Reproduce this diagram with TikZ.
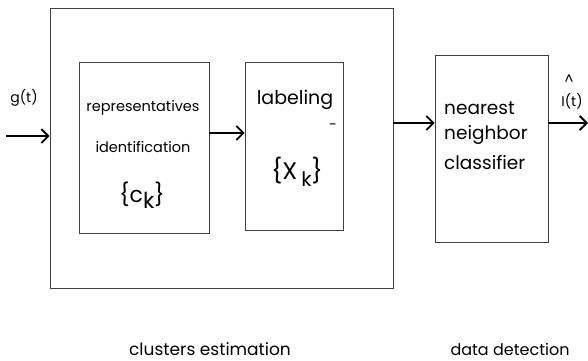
\documentclass[tikz,border=0pt]{standalone}
\usepackage{fontspec}
\setmainfont{Poppins}
\usetikzlibrary{arrows.meta}
\tikzset{box/.style={draw=black!75,line width=0.9pt,inner sep=0pt},
  arr/.style={-{Straight Barb[length=7pt,width=14pt]},line width=1.8pt},
  lbl/.style={inner sep=0pt,font=\fontsize{14}{16}\selectfont}}
\begin{document}
\begin{tikzpicture}[x=1pt,y=-1pt]
\useasboundingbox (0,0) rectangle (588,360);
% blocks
\node[box,minimum width=343pt,minimum height=280pt] (clust) at (221.5,148) {};
\node[box,minimum width=130pt,minimum height=171pt] (repr) at (144,147.5) {};
\node[box,minimum width=98pt,minimum height=168pt] (label) at (294,146) {};
\node[box,minimum width=113pt,minimum height=187pt] (nn) at (491.5,148.5) {};
% texts
\node[lbl,font=\fontsize{14.5}{16}\selectfont] (rtxt) at (143,108) {representatives};
\node[lbl,font=\fontsize{14.5}{16}\selectfont] (itxt) at (143,147) {identification};
\node[lbl,font=\fontsize{22}{24}\selectfont] (ctxt) at (142,195) {\{c\raisebox{-0.5ex}{k}\}};
\node[lbl,font=\fontsize{19}{21}\selectfont] (ltxt) at (295,100) {labeling};
\node[lbl] (dot) at (333,127) {-};
\node[lbl,font=\fontsize{24}{26}\selectfont] (xtxt) at (297,172) {\{X\,\raisebox{-0.5ex}{\fontsize{20}{22}\selectfont k}\}};
\node[lbl,font=\fontsize{18.5}{20}\selectfont,anchor=west] (ntxt) at (444,108) {nearest};
\node[lbl,font=\fontsize{18.5}{20}\selectfont,anchor=west] (gtxt) at (444,135) {neighbor};
\node[lbl,font=\fontsize{18.5}{20}\selectfont,anchor=west] (ctxt2) at (444,163) {classifier};
\node[lbl] (gin) at (24,98) {g(t)};
\node[lbl] (hat) at (569,80) {\textasciicircum};
\node[lbl] (iout) at (572,101) {I(t)};
\node[lbl,font=\fontsize{17}{19}\selectfont] (cest) at (210,349) {clusters estimation};
\node[lbl,font=\fontsize{16}{18}\selectfont] (ddet) at (510,349) {data detection};
% connectors
\coordinate (in) at (6,136);
\coordinate (out) at (588,123);
\draw[arr] (in) -- (clust.west |- in);
\draw[arr] (repr.east |- 0,133) -- (label.west |- 0,133);
\draw[arr] (clust.east |- 0,123) -- (nn.west |- 0,123);
\draw[arr] (nn.east |- out) -- (out);
\end{tikzpicture}
\end{document}
